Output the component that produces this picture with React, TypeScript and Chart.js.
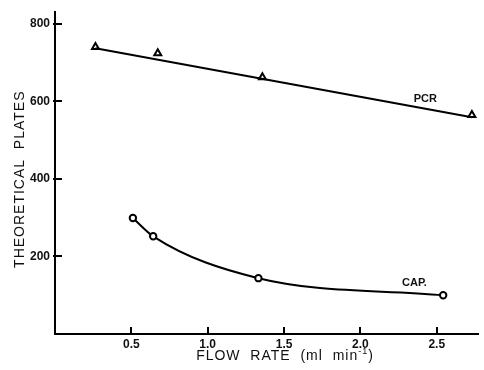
import { useEffect, useRef } from "react";
import { Chart, registerables } from "chart.js";

Chart.register(...registerables);

// Measured plate counts vs. flow rate
const pcrFlow = [0.265, 0.673, 1.358, 2.73];
const pcrPlates = [740, 724, 662, 565];
// Straight fit through the PCR points
const pcrFitFlow = [0.265, 2.73];
const pcrFitPlates = [737, 559];
const capFlow = [0.51, 0.643, 1.332, 2.542];
const capPlates = [299, 252, 144, 100];

const xTickValues = [0.5, 1.0, 1.5, 2.0, 2.5];
const yTickValues = [200, 400, 600, 800];

const curveLabels = ["PCR", "CAP."];
const curveLabelFlow = [2.425, 2.354];
const curveLabelPlates = [606, 132];

const FONT = '"Liberation Sans", Arial, Helvetica, sans-serif';
const INK = "#111";

const decorations = {
  id: "decorations",
  afterDraw(chart: any) {
    const { ctx, chartArea, scales } = chart;
    const xs = scales.x;
    const ys = scales.y;
    ctx.save();

    // inward tick marks
    ctx.strokeStyle = "#000";
    ctx.lineWidth = 2;
    ctx.beginPath();
    xTickValues.forEach((v) => {
      const px = Math.round(xs.getPixelForValue(v));
      ctx.moveTo(px, chartArea.bottom);
      ctx.lineTo(px, chartArea.bottom - 7);
    });
    yTickValues.forEach((v) => {
      const py = Math.round(ys.getPixelForValue(v));
      ctx.moveTo(chartArea.left - 2, py);
      ctx.lineTo(chartArea.left + 7, py);
    });
    ctx.stroke();

    // curve labels
    ctx.fillStyle = INK;
    ctx.font = `bold 11px ${FONT}`;
    ctx.textAlign = "center";
    ctx.textBaseline = "middle";
    curveLabels.forEach((t, i) => {
      ctx.fillText(
        t,
        xs.getPixelForValue(curveLabelFlow[i]),
        ys.getPixelForValue(curveLabelPlates[i])
      );
    });

    // y-axis title
    ctx.font = `14px ${FONT}`;
    (ctx as any).letterSpacing = "1px";
    ctx.save();
    ctx.translate(20, chartArea.top + 167);
    ctx.rotate(-Math.PI / 2);
    ctx.fillText("THEORETICAL  PLATES", 0, 0);
    ctx.restore();

    // x-axis title with superscript
    const main = "FLOW  RATE  (ml  min";
    const sup = "-1";
    const end = ")";
    ctx.textAlign = "left";
    ctx.textBaseline = "alphabetic";
    ctx.font = `14px ${FONT}`;
    const wMain = ctx.measureText(main).width;
    const wEnd = ctx.measureText(end).width;
    ctx.font = `9px ${FONT}`;
    const wSup = ctx.measureText(sup).width;
    const total = wMain + wSup + wEnd;
    let x0 = 285 - total / 2;
    const base = 360;
    ctx.font = `14px ${FONT}`;
    ctx.fillText(main, x0, base);
    x0 += wMain;
    ctx.font = `9px ${FONT}`;
    ctx.fillText(sup, x0, base - 6);
    x0 += wSup;
    ctx.font = `14px ${FONT}`;
    ctx.fillText(end, x0, base);
    ctx.restore();
  },
};

export default function App() {
  const canvasRef = useRef<HTMLCanvasElement | null>(null);

  useEffect(() => {
    const canvas = canvasRef.current;
    if (!canvas) return;
    const chart = new Chart(canvas, {
      type: "scatter",
      data: {
        datasets: [
          {
            label: "PCR fit",
            data: pcrFitFlow.map((x, i) => ({ x, y: pcrFitPlates[i] })),
            showLine: true,
            borderColor: "#000",
            borderWidth: 2,
            pointRadius: 0,
          },
          {
            label: "PCR",
            data: pcrFlow.map((x, i) => ({ x, y: pcrPlates[i] })),
            showLine: false,
            pointStyle: "triangle",
            pointRadius: 4,
            pointBorderWidth: 2,
            pointBorderColor: "#000",
            pointBackgroundColor: "#fff",
          },
          {
            label: "CAP.",
            data: capFlow.map((x, i) => ({ x, y: capPlates[i] })),
            showLine: true,
            cubicInterpolationMode: "monotone",
            borderColor: "#000",
            borderWidth: 2,
            pointStyle: "circle",
            pointRadius: 3.2,
            pointBorderWidth: 2,
            pointBorderColor: "#000",
            pointBackgroundColor: "#fff",
          },
        ],
      },
      options: {
        responsive: false,
        animation: false,
        layout: { padding: { top: 12, right: 1, left: 0, bottom: 0 } },
        plugins: {
          legend: { display: false },
          tooltip: { enabled: false },
        },
        scales: {
          x: {
            type: "linear",
            min: 0,
            max: 2.77,
            afterFit: (s: any) => {
              s.height = 36;
            },
            afterBuildTicks: (s: any) => {
              s.ticks = xTickValues.map((value) => ({ value }));
            },
            grid: { display: false, drawTicks: false },
            border: { display: true, color: "#000", width: 2 },
            ticks: {
              padding: 3,
              color: INK,
              font: { family: FONT, size: 12, weight: "bold" },
              callback: (v: any) => Number(v).toFixed(1),
            },
          },
          y: {
            type: "linear",
            min: 0,
            max: 830,
            afterFit: (s: any) => {
              s.width = 55;
            },
            afterBuildTicks: (s: any) => {
              s.ticks = yTickValues.map((value) => ({ value }));
            },
            grid: { display: false, drawTicks: false },
            border: { display: true, color: "#000", width: 2 },
            ticks: {
              padding: 5,
              color: INK,
              font: { family: FONT, size: 12, weight: "bold" },
              callback: (v: any) => String(v),
            },
          },
        },
      },
      plugins: [decorations],
    });
    return () => chart.destroy();
  }, []);

  return (
    <div
      style={{
        position: "fixed",
        left: 0,
        top: 0,
        width: 484,
        height: 370,
        background: "#fff",
      }}
    >
      <canvas ref={canvasRef} width={484} height={370} />
    </div>
  );
}
